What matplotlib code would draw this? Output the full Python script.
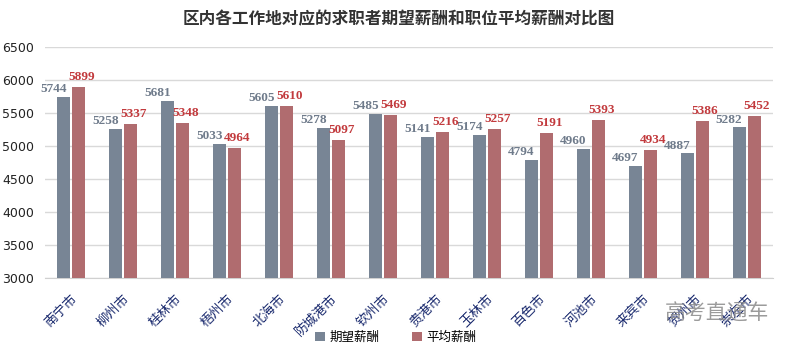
import matplotlib
matplotlib.use("Agg")
import matplotlib.pyplot as plt
import numpy as np

plt.rcParams['font.family'] = ['Noto Sans CJK SC', 'DejaVu Sans']

cities = ["南宁市", "柳州市", "桂林市", "梧州市", "北海市", "防城港市", "钦州市",
          "贵港市", "玉林市", "百色市", "河池市", "来宾市", "贺州市", "崇左市"]
expected = [5744, 5258, 5681, 5033, 5605, 5278, 5485, 5141, 5174, 4794, 4960, 4697, 4887, 5282]
average = [5899, 5337, 5348, 4964, 5610, 5097, 5469, 5216, 5257, 5191, 5393, 4934, 5386, 5452]
series_names = ["期望薪酬", "平均薪酬"]
title = "区内各工作地对应的求职者期望薪酬和职位平均薪酬对比图"
yticks = [3000, 3500, 4000, 4500, 5000, 5500, 6000, 6500]

c_blue = "#788595"
c_red = "#b06c6f"
lab_blue = "#6f7b8b"
lab_red = "#c23a3d"

fig = plt.figure(figsize=(7.97, 3.52), dpi=100)
ax = fig.add_axes([0.0565, 0.2102, 0.913, 0.6563])

x = np.arange(len(cities))
w = 0.25
off = 0.145
b1 = ax.bar(x - off, expected, w, color=c_blue, label=series_names[0], zorder=3)
b2 = ax.bar(x + off, average, w, color=c_red, label=series_names[1], zorder=3)

for xi, v in zip(x, expected):
    ax.text(xi - 0.34, v + 25, str(v), ha='center', va='bottom', color=lab_blue,
            fontsize=9.5, fontweight='bold', family=['Liberation Serif'], zorder=4)
for xi, v in zip(x, average):
    ax.text(xi + 0.2, v + 60, str(v), ha='center', va='bottom', color=lab_red,
            fontsize=9.5, fontweight='bold', family=['Liberation Serif'], zorder=4)

ax.set_xlim(-0.5, len(cities) - 0.5)
ax.set_ylim(3000, 6500)
ax.set_yticks(yticks)
ax.set_yticklabels([str(t) for t in yticks], fontsize=9, family=['DejaVu Sans'], color="#222222")
ax.yaxis.grid(True, color="#d9d9d9", linewidth=1, zorder=0)
ax.set_axisbelow(True)
for s in ['top', 'right', 'left']:
    ax.spines[s].set_visible(False)
ax.spines['bottom'].set_color("#d0d0d0")
ax.tick_params(axis='both', length=0)
ax.tick_params(axis='y', pad=8)

ax.set_xticks(x)
ax.set_xticklabels(cities, rotation=45, ha='right', va='top', rotation_mode='anchor',
                   fontsize=9.5, color="#1a2a6e")
ax.tick_params(axis='x', pad=10)

fig.text(0.5, 0.945, title, ha='center', va='center', fontsize=12, color="#333333",
         fontweight='bold')

fig.legend(handles=[b1, b2], labels=series_names, loc='center', bbox_to_anchor=(0.497, 0.042),
           ncol=2, frameon=False, fontsize=9, handlelength=0.75, handleheight=0.75,
           columnspacing=2.6, handletextpad=0.4)

fig.text(0.9, 0.11, "高考直通车", ha='center', va='center', fontsize=15, color="#8a8a8a", alpha=0.85)

fig.savefig("out.png", dpi=100)
